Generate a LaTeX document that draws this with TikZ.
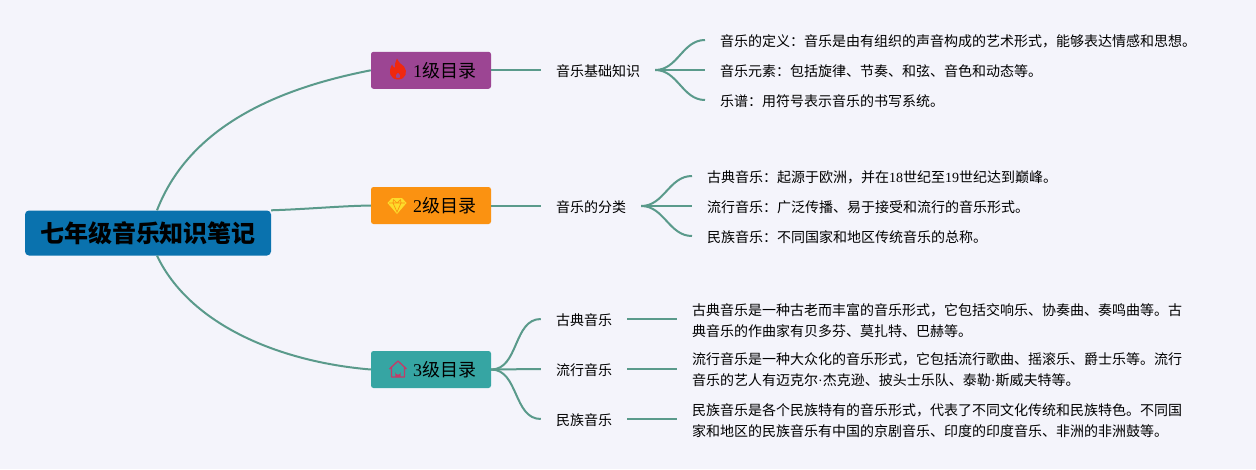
\documentclass[tikz,border=0pt]{standalone}
\usepackage{fontspec}
\newfontfamily\cjk{Noto Sans CJK SC}
\newfontfamily\num{Liberation Serif}
\newcommand{\cln}{\symbol{"FF1A}}
\newcommand{\cma}{\symbol{"FF0C}}
\definecolor{paper}{HTML}{F4F4FB}
\definecolor{linkcol}{HTML}{5A9A8B}
\definecolor{rootcol}{HTML}{0A72AE}
\definecolor{onecol}{HTML}{9C4593}
\definecolor{twocol}{HTML}{FB9211}
\definecolor{threecol}{HTML}{36A5A3}
\definecolor{firecol}{HTML}{F0280F}
\definecolor{gemcol}{HTML}{FDDC2B}
\definecolor{housecol}{HTML}{C43A68}

\begin{document}
\begin{tikzpicture}[x=1pt, y=-1pt,
                    link/.style={draw=linkcol,line width=2pt},
                    root node/.style={rectangle,rounded corners=4pt,fill=rootcol,minimum width=246pt,minimum height=45pt,inner sep=0pt,font=\cjk\bfseries\fontsize{24}{28}\selectfont},
                    top node/.style={rectangle,rounded corners=2.5pt,minimum width=120pt,minimum height=37pt,inner sep=0pt,font=\cjk\fontsize{18}{22}\selectfont},
                    sub node/.style={inner xsep=15pt,inner ysep=2pt,text height=13pt,text depth=0pt,font=\cjk\fontsize{14}{21}\selectfont},
                    leaf node/.style={anchor=west,inner xsep=15pt,inner ysep=0pt,align=left,font=\cjk\fontsize{14}{21}\selectfont},
                    short leaf/.style={leaf node,align=none,text height=13pt,text depth=0pt},
                    fire icon/.pic={
                      \fill[firecol,even odd rule] (-1,-11) .. controls (1,-6) and (4,-5) .. (6,-3) .. controls (10,2) and (8,10) .. (0,10) .. controls (-8,10) and (-10,2) .. (-6,-5) .. controls (-5,-2) and (-4,-2) .. (-3,-2) .. controls (-3,-5) and (-3,-8) .. (-1,-11) -- cycle
                        (0,3) .. controls (-2,5) and (-3,6) .. (-2,8) .. controls (-1,9) and (1,9) .. (2,8) .. controls (3,6) and (2,5) .. (0,3) -- cycle;
                    },
                    gem icon/.pic={
                      \fill[gemcol] (-5,-8) -- (5,-8) -- (9.5,-3) -- (0,8) -- (-9.5,-3) -- cycle;
                      \draw[twocol,line width=0.7pt] (-8,-3) -- (8,-3) (-3.5,-6.5) -- (-4,-3) -- (0,6) -- (4,-3) -- (3.5,-6.5) (-3.5,-6.5) -- (0,-3) -- (3.5,-6.5);
                    },
                    house icon/.pic={
                      \draw[housecol,line width=1.3pt,line join=round] (-8.5,0) -- (0,-8) -- (8.5,0) (-6.5,-1.5) -- (-6.5,8) -- (6.5,8) -- (6.5,-1.5);
                      \fill[housecol] (-2.7,8) -- (-2.7,3) arc[start angle=180,end angle=0,radius=2.7] -- (2.7,8) -- cycle;
                    }]

  \useasboundingbox[fill=paper] (0,0) rectangle (1256,469);

  % centre and first level
  \node[root node] (root) at (148,233) {\raisebox{-1pt}{七年级音乐知识笔记}};
  \node[top node,fill=onecol] (one) at (431,70.3) {\hspace*{27pt}\raisebox{-2.5pt}{{\num 1}级目录}};
  \node[top node,fill=twocol] (two) at (431,205.5) {\hspace*{27pt}\raisebox{-2.5pt}{{\num 2}级目录}};
  \node[top node,fill=threecol] (three) at (431,369.5) {\hspace*{27pt}\raisebox{-2.5pt}{{\num 3}级目录}};

  \pic at (398,69.5) {fire icon};
  \pic at (397,206) {gem icon};
  \pic at (398,369) {house icon};

  % second level
  \node[sub node] (basic) at (598,70) {音乐基础知识};
  \node[sub node] (kinds) at (591,206) {音乐的分类};
  \node[sub node] (classic) at (584,319) {古典音乐};
  \node[sub node] (pop) at (584,369) {流行音乐};
  \node[sub node] (folk) at (584,419) {民族音乐};

  % third level
  \node[short leaf] (def) at (705,40) {音乐的定义\cln 音乐是由有组织的声音构成的艺术形式\cma 能够表达情感和思想。};
  \node[short leaf] (elem) at (705,70) {音乐元素\cln 包括旋律、节奏、和弦、音色和动态等。};
  \node[short leaf] (score) at (705,100) {乐谱\cln 用符号表示音乐的书写系统。};
  \node[short leaf] (kclassic) at (692,176) {古典音乐\cln 起源于欧洲\cma 并在{\num 18}世纪至{\num 19}世纪达到巅峰。};
  \node[short leaf] (kpop) at (692,206) {流行音乐\cln 广泛传播、易于接受和流行的音乐形式。};
  \node[short leaf] (kfolk) at (692,236) {民族音乐\cln 不同国家和地区传统音乐的总称。};
  \node[leaf node] (tclassic) at (677,320.5) {古典音乐是一种古老而丰富的音乐形式\cma 它包括交响乐、协奏曲、奏鸣曲等。古\\典音乐的作曲家有贝多芬、莫扎特、巴赫等。};
  \node[leaf node] (tpop) at (677,370) {流行音乐是一种大众化的音乐形式\cma 它包括流行歌曲、摇滚乐、爵士乐等。流行\\音乐的艺人有迈克尔{\num ·}杰克逊、披头士乐队、泰勒{\num ·}斯威夫特等。};
  \node[leaf node] (tfolk) at (677,420.5) {民族音乐是各个民族特有的音乐形式\cma 代表了不同文化传统和民族特色。不同国\\家和地区的民族音乐有中国的京剧音乐、印度的印度音乐、非洲的非洲鼓等。};

  \path[link] ([xshift=9pt]root.north) .. controls (190,125) and (280,88) .. (one.west);
  \path[link] (root.north east) .. controls (310,209) and (340,206) .. (two.west);
  \path[link] ([xshift=9pt]root.south) .. controls (190,325) and (280,362) .. (three.west);

  \path[link] (one.east) -- (one.east -| basic.west);
  \path[link] (two.east) -- (two.east -| kinds.west);
  \foreach \kid in {classic,pop,folk}
    \path[link] (three.east) to[out=0,in=180] (\kid.west);

  \foreach \kid in {def,elem,score}
    \path[link] (basic.east) to[out=0,in=180] (\kid.west);
  \foreach \kid in {kclassic,kpop,kfolk}
    \path[link] (kinds.east) to[out=0,in=180] (\kid.west);

  \path[link] (classic.east) -- (classic.east -| tclassic.west);
  \path[link] (pop.east) -- (pop.east -| tpop.west);
  \path[link] (folk.east) -- (folk.east -| tfolk.west);

\end{tikzpicture}
\end{document}
